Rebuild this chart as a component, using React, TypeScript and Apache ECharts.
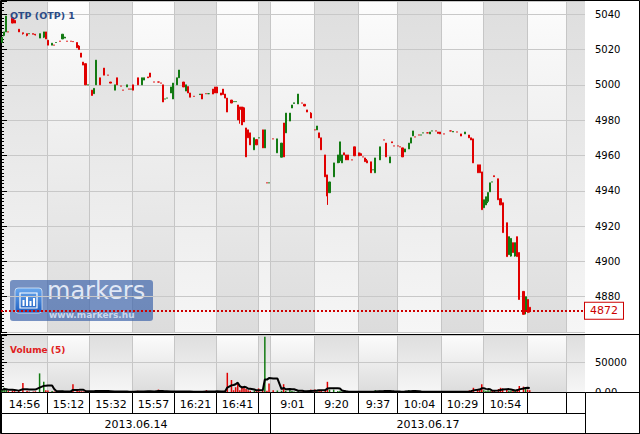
import React, { useEffect, useRef } from 'react';
import * as echarts from 'echarts';

// ---------- data ----------
const SLOT_COUNT = 280; // trading-minute slots on the horizontal scale
const MA_PERIOD = 5;

const candleSlot = [
  0, 1, 2, 3, 5, 6, 8, 10, 12, 13,
  15, 16, 18, 20, 21, 22, 24, 25, 26, 28,
  29, 30, 31, 33, 34, 36, 37, 38, 39, 40,
  41, 43, 44, 45, 47, 49, 51, 52, 54, 55,
  57, 58, 60, 61, 62, 63, 65, 67, 68, 70,
  71, 73, 75, 76, 77, 78, 79, 81, 82, 84,
  85, 87, 88, 89, 90, 92, 95, 96, 98, 99,
  101, 102, 103, 105, 106, 107, 108, 110, 111, 112,
  113, 114, 115, 116, 117, 118, 119, 121, 122, 123,
  125, 126, 127, 128, 130, 132, 134, 135, 136, 138,
  139, 140, 142, 144, 145, 146, 148, 150, 151, 152,
  153, 155, 156, 157, 159, 161, 162, 163, 164, 165,
  166, 168, 169, 171, 172, 173, 174, 175, 177, 178,
  179, 181, 183, 184, 186, 187, 188, 190, 191, 192,
  193, 195, 196, 197, 198, 200, 201, 202, 204, 205,
  206, 208, 209, 210, 212, 215, 216, 218, 220, 222,
  224, 225, 226, 228, 229, 230, 231, 232, 233, 234,
  235, 236, 238, 239, 240, 242, 243, 244, 245, 246,
  247, 248, 250, 251, 252, 253,
];

const openP = [
  5024, 5028, 5030, 5030, 5038, 5036.5, 5031.5, 5029.5, 5029, 5029,
  5029, 5028.7, 5026.5, 5027, 5030, 5025.3, 5022.5, 5022.5, 5024, 5024.7,
  5026, 5026.5, 5024.7, 5024.7, 5024.5, 5024, 5022, 5018, 5012.9, 5012,
  5000, 4997, 4995, 5000, 5004, 5009.5, 5005.5, 5001.6, 4997, 5004,
  4999.3, 4997, 4998.8, 4997.6, 4997.6, 5000, 5004, 5000, 5002.7, 5004.5,
  5006.7, 5001.6, 5001.6, 5001, 5000, 4992, 4992.5, 4995.4, 4992, 5000,
  5004, 5001.6, 4996.5, 4999, 4995.4, 4993.5, 4994.5, 4994.8, 4995, 4995,
  4997.6, 4998.8, 4998.8, 4995.4, 4997.6, 4994.8, 4992.5, 4991.4, 4990.5, 4990.5,
  4988.6, 4987.5, 4987.5, 4987, 4975.6, 4974.5, 4972.8, 4963.2, 4969, 4970,
  4974.5, 4964.3, 4944.5, 4944.5, 4969.4, 4961.5, 4959, 4978.4, 4972.8, 4979.5,
  4986.9, 4989.5, 4989.2, 4989.7, 4989, 4985.8, 4984, 4974.5, 4974.5, 4972.8,
  4970, 4960.3, 4949, 4938.9, 4947.9, 4955.8, 4957, 4955.8, 4961.5, 4960.3,
  4960.3, 4957.5, 4964.9, 4961.5, 4961, 4959.2, 4958.6, 4957, 4956.4, 4951.9,
  4950.2, 4957.5, 4968.8, 4967, 4955.8, 4967.7, 4965.4, 4965.4, 4964.9, 4964.3,
  4962, 4963.7, 4967, 4971.1, 4970.5, 4971.6, 4971.6, 4972.8, 4972.8, 4972.2,
  4973.9, 4973.9, 4973.3, 4973.3, 4972.2, 4973.9, 4973.3, 4973.3, 4972.2, 4972.2,
  4971.6, 4970, 4969.4, 4954.7, 4954.7, 4950.7, 4930.4, 4932, 4934, 4939.4,
  4945, 4948.5, 4946.8, 4935.5, 4933.2, 4921.9, 4903.8, 4903, 4910.6, 4903,
  4914, 4905, 4883, 4872, 4878.4, 4874,
];

const closeP = [
  5027, 5030, 5039, 5030, 5035, 5035, 5030, 5029, 5028, 5029,
  5028.7, 5028.3, 5029, 5030, 5026, 5022.5, 5023.6, 5022.5, 5024, 5024.7,
  5028.7, 5027, 5024.7, 5024.7, 5024.5, 5021, 5020, 5015.7, 5011.2, 5000,
  5000, 4994, 4998, 5014, 5000, 5005.5, 5005.5, 5001, 5000, 5000,
  4999.3, 4997, 5000, 4997.6, 4997.6, 4997, 5000, 5004, 5004, 5004,
  5004.4, 5001.6, 5001.6, 5001, 4990.3, 4992, 4992.5, 4998.8, 5001, 5004,
  5008.4, 4998.8, 5000, 4995.4, 4993, 4993.5, 4994.8, 4992, 4995, 4995,
  4994.8, 4995.4, 4995.4, 4994.2, 4994.5, 4992.5, 4984.6, 4989.7, 4990.5, 4990.5,
  4980.1, 4986, 4977.3, 4979, 4959.2, 4970, 4966, 4970, 4966, 4970,
  4964.3, 4974.5, 4944.5, 4944.5, 4969.4, 4969.4, 4967, 4959.2, 4984, 4984,
  4988.6, 4989.8, 4994.8, 4989.7, 4988, 4984.6, 4981.2, 4974.5, 4976.7, 4970,
  4963.2, 4947.9, 4937, 4945, 4955.8, 4960.3, 4967.7, 4960.3, 4960.3, 4957.5,
  4957.5, 4957.5, 4959.8, 4959.8, 4960, 4959.2, 4956.5, 4955.8, 4950.2, 4951.9,
  4958.6, 4964.9, 4968.8, 4959.2, 4959.2, 4967.2, 4965.4, 4965.4, 4964.9, 4959.2,
  4963.7, 4967, 4970, 4973.9, 4970.5, 4971.6, 4971.6, 4972.8, 4972.8, 4973.3,
  4973.9, 4973.9, 4972.5, 4972.2, 4972.2, 4973.9, 4973.6, 4973.3, 4971, 4973.3,
  4970, 4968.8, 4955.8, 4950.2, 4950.2, 4929.3, 4934.9, 4936.6, 4939, 4944.5,
  4945, 4948, 4934.9, 4932, 4916.3, 4902.7, 4914, 4913, 4905, 4910.6,
  4902.7, 4878.4, 4870, 4880, 4871, 4872,
];

const lowP = [
  5024, 5027.5, 5030, 5030, 5035, 5035, 5030, 5028.5, 5027.5, 5029,
  5028.7, 5028, 5026.5, 5026.5, 5026, 5022.5, 5022.5, 5022.5, 5024, 5024.7,
  5026, 5026.5, 5024.7, 5024.7, 5024.5, 5021, 5020, 5015.7, 5011.2, 5000,
  5000, 4994, 4995, 5000, 5000, 5005.5, 5005.5, 5001, 4997, 5000,
  4999.3, 4997, 4998.8, 4997.6, 4997.6, 4997, 5000, 5000, 5002.7, 5004,
  5004.4, 5001.6, 5001.6, 5001, 4990.3, 4992, 4992.5, 4995.4, 4992, 5000,
  5004, 4998.8, 4996.5, 4995.4, 4993, 4993.5, 4994.5, 4992, 4995, 4995,
  4994.8, 4995.4, 4995.4, 4994.2, 4994.5, 4992.5, 4984.6, 4989.7, 4990.5, 4990.5,
  4980.1, 4978, 4977.3, 4979, 4959.2, 4970, 4966, 4963.2, 4966, 4970,
  4964.3, 4964.3, 4944.5, 4944.5, 4969.4, 4961.5, 4959, 4959.2, 4972.8, 4979.5,
  4986.9, 4989.5, 4989.2, 4989.7, 4988, 4984.6, 4981.2, 4974.5, 4974.5, 4970,
  4963.2, 4947.9, 4932, 4938.9, 4947.9, 4955.8, 4955.8, 4955.8, 4960.3, 4957.5,
  4957.5, 4957.5, 4959.8, 4959.8, 4959.8, 4959.2, 4956.5, 4955.8, 4950.2, 4951.9,
  4950.2, 4957.5, 4968.8, 4959.2, 4955.8, 4967.2, 4965.4, 4965.4, 4964.9, 4959.2,
  4962, 4963.7, 4967, 4971.1, 4970.5, 4971.6, 4971.6, 4972.8, 4972.8, 4972.2,
  4973.9, 4973.9, 4972.5, 4972.2, 4972.2, 4973.9, 4973.3, 4973.3, 4971, 4972.2,
  4970, 4968.8, 4955.8, 4950.2, 4950.2, 4929.3, 4930.4, 4932, 4933, 4939.4,
  4945, 4948, 4934.9, 4932, 4916.3, 4902.7, 4903.8, 4902.7, 4905, 4902.7,
  4902.7, 4878.4, 4870, 4870, 4871, 4871,
];

const highP = [
  5027, 5030, 5039, 5030, 5038, 5037, 5031.5, 5029.5, 5029, 5029,
  5029, 5028.7, 5029, 5030, 5030, 5025.3, 5023.6, 5022.5, 5024, 5024.7,
  5028.7, 5027.2, 5024.7, 5024.7, 5024.5, 5024, 5022.5, 5018, 5012.9, 5012,
  5000, 4997, 4998, 5014, 5004, 5009.5, 5005.5, 5001.6, 5000, 5004,
  4999.3, 4997, 5000, 4997.6, 4997.6, 5000, 5004, 5004, 5004, 5004.5,
  5006.7, 5001.6, 5001.6, 5001, 5000, 4992, 4992.5, 4998.8, 5001, 5004,
  5008.4, 5001.6, 5000, 4999, 4995.4, 4993.5, 4994.8, 4994.8, 4995, 4995,
  4997.6, 4998.8, 4998.8, 4995.4, 4997.6, 4994.8, 4992.5, 4991.4, 4990.5, 4990.5,
  4988.6, 4987.5, 4987.5, 4987.5, 4975.6, 4974.5, 4972.8, 4970, 4969, 4970,
  4974.5, 4974.5, 4944.5, 4944.5, 4969.4, 4969.4, 4967, 4978.4, 4984, 4984,
  4988.6, 4989.8, 4994.8, 4989.7, 4989, 4985.8, 4984.5, 4974.5, 4976.7, 4972.8,
  4970, 4960.3, 4949, 4945, 4955.8, 4960.3, 4967.7, 4960.3, 4961.5, 4960.3,
  4960.3, 4957.5, 4964.9, 4961.5, 4961.5, 4959.2, 4958.6, 4958, 4956.4, 4951.9,
  4958.6, 4964.9, 4968.8, 4967, 4959.2, 4967.7, 4965.4, 4965.4, 4964.9, 4964.3,
  4963.7, 4967, 4970, 4973.9, 4970.5, 4971.6, 4971.6, 4972.8, 4972.8, 4973.3,
  4973.9, 4973.9, 4973.3, 4973.3, 4972.2, 4973.9, 4973.6, 4973.3, 4972.2, 4973.3,
  4971.6, 4970, 4969.4, 4954.7, 4954.7, 4950.7, 4934.9, 4936.6, 4939, 4944.5,
  4945, 4948.5, 4946.8, 4935.5, 4933.2, 4921.9, 4914, 4913, 4910.6, 4910.6,
  4914, 4905, 4883, 4880, 4878.4, 4874,
];

const volume = [
  3000, 7000, 4000, 1500, 2500, 1500, 2000, 15000, 2000, 1000,
  800, 1200, 31000, 17000, 3000, 2500, 1500, 800, 600, 500,
  2000, 1000, 600, 800, 13000, 2000, 1500, 1200, 1000, 2500,
  800, 1200, 1500, 3000, 1500, 1200, 500, 600, 1000, 800,
  400, 400, 600, 400, 500, 800, 2000, 1000, 600, 1500,
  800, 500, 4000, 600, 1500, 400, 400, 600, 1000, 800,
  1000, 600, 500, 800, 600, 400, 400, 600, 3000, 500,
  500, 600, 800, 1000, 1200, 2000, 32000, 20000, 3000, 8000,
  15000, 3000, 9000, 8000, 5000, 3000, 2000, 2500, 1500, 6000,
  2000, 92000, 2000, 14000, 3000, 2500, 2000, 13000, 2000, 5000,
  1500, 1000, 1500, 800, 800, 1500, 4000, 4000, 1500, 3000,
  3000, 4000, 17000, 4000, 4000, 1500, 2000, 1000, 600, 600,
  500, 400, 500, 400, 400, 300, 400, 400, 600, 400,
  3000, 2000, 1500, 1500, 1000, 800, 600, 400, 400, 800,
  1000, 3000, 1500, 1200, 600, 400, 300, 300, 300, 400,
  300, 300, 400, 400, 300, 300, 300, 300, 500, 500,
  2500, 3000, 7000, 5000, 3000, 13000, 3000, 2000, 3000, 2000,
  1500, 1500, 5000, 7000, 6000, 4000, 2000, 2000, 3000, 2000,
  5000, 10000, 9000, 8000, 4000, 3000,
];

// time-label cells: first slot of each cell and its label
const timeCellStart = [0, 22, 42, 63, 83, 103, 123, 129, 150, 171, 190, 211, 231, 252, 271];
const timeCellLabel = ['14:56', '15:12', '15:32', '15:57', '16:21', '16:41', '', '9:01', '9:20', '9:37', '10:04', '10:29', '10:54', '', ''];
const dateCellStart = [0, 129];
const dateCellLabel = ['2013.06.14', '2013.06.17'];

const PRICE_MIN = 4860;
const PRICE_MAX = 5047.5;
const PRICE_INTERVAL = 20;
const VOL_MIN = 0;
const VOL_MAX = 95000;
const VOL_INTERVAL = 50000;

const TITLE = 'OTP (OTP) 1';
const VOL_TITLE = 'Volume (5)';
const LOGO_TEXT = 'markers';
const LOGO_URL = 'www.markers.hu';

// ---------- style ----------
const UP = '#127a12';
const DOWN = '#e00000';
const FONT = 'DejaVu Sans';

export default function App() {
  const ref = useRef<HTMLDivElement>(null);

  useEffect(() => {
    document.body.style.margin = '0';
    const chart = echarts.init(ref.current as HTMLDivElement, null, { renderer: 'svg' });

    const categories = Array.from({ length: SLOT_COUNT }, (_, i) => String(i));
    const candleData: any[] = categories.map(() => '-');
    const volData: any[] = categories.map(() => '-');
    const maData: any[] = categories.map(() => '-');
    candleSlot.forEach((s, i) => {
      candleData[s] = [openP[i], closeP[i], lowP[i], highP[i]];
      const up = closeP[i] > openP[i];
      volData[s] = { value: volume[i], itemStyle: { color: up ? UP : DOWN } };
      const from = Math.max(0, i - MA_PERIOD + 1);
      let sum = 0;
      for (let k = from; k <= i; k++) sum += volume[k];
      maData[s] = sum / (i - from + 1);
    });
    const lastClose = closeP[closeP.length - 1];

    const toCells = (starts: number[]) =>
      starts.map((s, k) => [s, k + 1 < starts.length ? starts[k + 1] : SLOT_COUNT, k]);
    const timeCells = toCells(timeCellStart);
    const dateCells = toCells(dateCellStart);

    const bgRender = (params: any, api: any) => {
      const cs = params.coordSys;
      const s = api.value(0);
      const e = api.value(1);
      const k = api.value(2);
      const x0 = Math.round(api.coord([s, 0])[0]);
      const x1 = Math.round(api.coord([e, 0])[0]);
      const dark = k % 2 === 0;
      const fill = new echarts.graphic.LinearGradient(0, 0, 0, 1, dark
        ? [{ offset: 0, color: '#dedede' }, { offset: 1, color: '#f6f6f6' }]
        : [{ offset: 0, color: '#fcfcfc' }, { offset: 1, color: '#dcdcdc' }]);
      const children: any[] = [
        { type: 'rect', shape: { x: x0, y: cs.y, width: x1 - x0, height: cs.height }, style: { fill } },
      ];
      if (s > 0) {
        children.push({
          type: 'line',
          shape: { x1: x0 + 0.5, y1: cs.y, x2: x0 + 0.5, y2: cs.y + cs.height },
          style: { stroke: '#c6c6c6', lineWidth: 1 },
        });
      }
      return { type: 'group', children };
    };

    const cellRender = (labels: string[], yTop: number, yBottom: number) => (params: any, api: any) => {
      const s = api.value(0);
      const e = api.value(1);
      const k = api.value(2);
      const p0 = api.coord([s, yTop]);
      const p1 = api.coord([e, yBottom]);
      const x0 = Math.round(p0[0]) + 0.5;
      const x1 = Math.round(p1[0]) + 0.5;
      const y0 = Math.round(p0[1]) + 0.5;
      const y1 = Math.round(p1[1]) + 0.5;
      return {
        type: 'group',
        children: [
          { type: 'rect', shape: { x: x0, y: y0, width: x1 - x0, height: y1 - y0 }, style: { fill: '#fff', stroke: '#000', lineWidth: 1 } },
          {
            type: 'text',
            style: {
              text: labels[k], x: (x0 + x1) / 2, y: (y0 + y1) / 2 + 1,
              align: 'center', verticalAlign: 'middle',
              fontSize: 11, fontFamily: FONT, fill: '#000',
            },
          },
        ],
      };
    };

    const option: any = {
      animation: false,
      backgroundColor: '#fff',
      title: [
        { text: TITLE, left: 5, top: 5, textStyle: { fontSize: 9.5, fontWeight: 'bold', color: '#2b4b86', fontFamily: FONT } },
        { text: VOL_TITLE, left: 5, top: 340, textStyle: { fontSize: 9, fontWeight: 'bold', color: '#e02020', fontFamily: FONT } },
      ],
      grid: [
        { left: 1, top: 1, width: 584, height: 331 },
        { left: 1, top: 335, width: 584, height: 57 },
        { left: 1, top: 392, width: 584, height: 41 },
      ],
      xAxis: [
        { type: 'category', gridIndex: 0, data: categories, show: false, boundaryGap: true },
        { type: 'value', gridIndex: 0, min: 0, max: SLOT_COUNT, show: false },
        { type: 'category', gridIndex: 1, data: categories, show: false, boundaryGap: true },
        { type: 'value', gridIndex: 1, min: 0, max: SLOT_COUNT, show: false },
        { type: 'value', gridIndex: 2, min: 0, max: SLOT_COUNT, show: false },
      ],
      yAxis: [
        {
          type: 'value', gridIndex: 0, position: 'right', min: PRICE_MIN, max: PRICE_MAX, interval: PRICE_INTERVAL,
          axisLine: { show: true, lineStyle: { color: '#000', width: 1 } },
          axisTick: { show: true, length: 6, lineStyle: { color: '#000' } },
          minorTick: { show: true, splitNumber: 10, length: 3, lineStyle: { color: '#000' } },
          axisLabel: {
            fontSize: 10, fontFamily: FONT, color: '#000', margin: 10, showMinLabel: false, showMaxLabel: false,
            formatter: (v: number) => String(v),
          },
          splitLine: { show: true, lineStyle: { color: '#c8c8c8', width: 1 } },
        },
        {
          type: 'value', gridIndex: 1, position: 'right', min: VOL_MIN, max: VOL_MAX, interval: VOL_INTERVAL,
          axisLine: { show: true, lineStyle: { color: '#000', width: 1 } },
          axisTick: { show: true, length: 6, lineStyle: { color: '#000' } },
          minorTick: { show: true, splitNumber: 10, length: 3, lineStyle: { color: '#000' } },
          axisLabel: {
            fontSize: 10, fontFamily: FONT, color: '#000', margin: 10, showMaxLabel: false,
            formatter: (v: number) => (v === 0 ? '0.00' : String(v)),
          },
          splitLine: { show: true, lineStyle: { color: '#c8c8c8', width: 1 } },
        },
        { type: 'value', gridIndex: 2, min: 0, max: 2, show: false },
      ],
      series: [
        {
          type: 'custom', xAxisIndex: 1, yAxisIndex: 0, z: -5, silent: true,
          renderItem: bgRender, data: timeCells, encode: { x: [0, 1] },
        },
        {
          type: 'custom', xAxisIndex: 3, yAxisIndex: 1, z: -5, silent: true,
          renderItem: bgRender, data: timeCells, encode: { x: [0, 1] },
        },
        {
          type: 'candlestick', xAxisIndex: 0, yAxisIndex: 0, data: candleData, barWidth: 1.6,
          itemStyle: { color: UP, color0: DOWN, borderColor: UP, borderColor0: DOWN, borderWidth: 1 },
          markLine: {
            symbol: 'none', silent: true,
            data: [{ yAxis: lastClose }],
            lineStyle: { color: '#cc0000', type: [2, 2], width: 2 },
            label: {
              show: true, position: 'end', distance: 0, formatter: String(lastClose),
              color: '#cc0000', backgroundColor: '#fff', borderColor: '#cc0000', borderWidth: 1,
              padding: [3, 5, 2, 5], fontSize: 11, fontFamily: FONT,
            },
          },
        },
        {
          type: 'bar', xAxisIndex: 2, yAxisIndex: 1, data: volData, barWidth: 1.5,
        },
        {
          type: 'line', xAxisIndex: 2, yAxisIndex: 1, data: maData, symbol: 'none', connectNulls: true,
          lineStyle: { color: '#000', width: 2 }, z: 4,
        },
        {
          type: 'custom', xAxisIndex: 4, yAxisIndex: 2, z: 10, silent: true,
          renderItem: cellRender(timeCellLabel, 2, 1), data: timeCells, encode: { x: [0, 1] },
        },
        {
          type: 'custom', xAxisIndex: 4, yAxisIndex: 2, z: 10, silent: true,
          renderItem: cellRender(dateCellLabel, 1, 0), data: dateCells, encode: { x: [0, 1] },
        },
      ],
      graphic: [
        {
          type: 'group', left: 10, top: 279, z: 20, silent: true,
          children: [
            { type: 'rect', shape: { x: 0, y: 0, width: 143, height: 41, r: 3 }, style: { fill: 'rgba(58,98,170,0.68)' } },
            {
              type: 'rect', shape: { x: 5, y: 8, width: 27, height: 25, r: 3 },
              style: {
                fill: new echarts.graphic.LinearGradient(0, 0, 0, 1, [{ offset: 0, color: '#6aa8ee' }, { offset: 1, color: '#1f5fc0' }]),
                stroke: 'rgba(255,255,255,0.6)', lineWidth: 1,
              },
            },
            { type: 'rect', shape: { x: 10, y: 13, width: 17, height: 15 }, style: { fill: 'none', stroke: '#fff', lineWidth: 1.2 } },
            { type: 'rect', shape: { x: 12.5, y: 20, width: 2, height: 6 }, style: { fill: '#fff' } },
            { type: 'rect', shape: { x: 16, y: 17, width: 2, height: 9 }, style: { fill: '#fff' } },
            { type: 'rect', shape: { x: 19.5, y: 21, width: 2, height: 5 }, style: { fill: '#fff' } },
            { type: 'rect', shape: { x: 23, y: 18, width: 2, height: 8 }, style: { fill: '#fff' } },
            {
              type: 'text', x: 37, y: -1,
              style: {
                text: LOGO_TEXT, fontSize: 24, lineHeight: 24, fontFamily: FONT,
                verticalAlign: 'top', fill: 'rgba(236,242,252,0.92)',
              },
            },
            {
              type: 'text', x: 39, y: 30,
              style: {
                text: LOGO_URL, fontSize: 9, lineHeight: 10, fontWeight: 'bold', fontFamily: FONT,
                verticalAlign: 'top', fill: 'rgba(215,226,245,0.9)',
              },
            },
          ],
        },
        { type: 'rect', z: 30, silent: true, shape: { x: 585.5, y: 392.5, width: 54, height: 41 }, style: { fill: '#fff', stroke: '#000', lineWidth: 1 } },
        { type: 'line', z: 30, silent: true, shape: { x1: 0, y1: 334.5, x2: 640, y2: 334.5 }, style: { stroke: '#000', lineWidth: 1 } },
        { type: 'rect', z: 40, silent: true, shape: { x: 0.5, y: 0.5, width: 639, height: 433 }, style: { fill: 'none', stroke: '#000', lineWidth: 1 } },
      ],
    };

    chart.setOption(option);
    return () => chart.dispose();
  }, []);

  return <div ref={ref} style={{ width: 640, height: 434 }} />;
}
